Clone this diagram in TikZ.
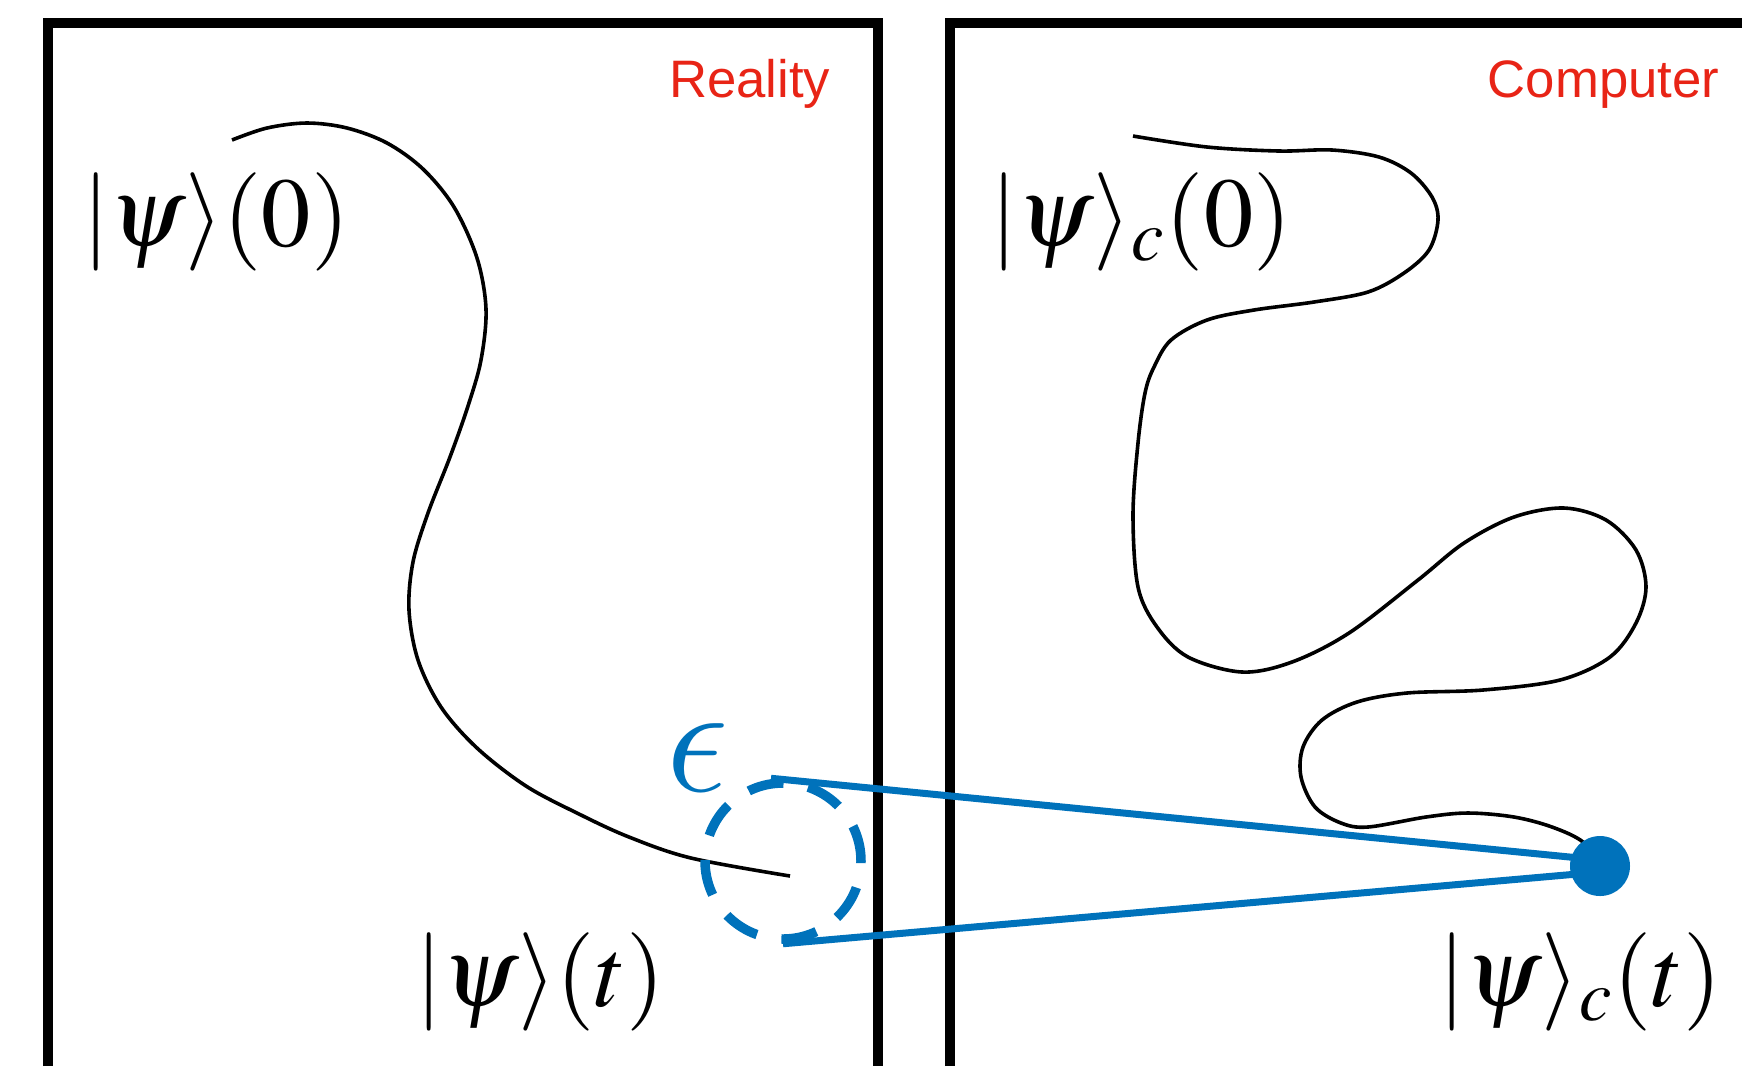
\documentclass[tikz,border=0pt]{standalone}
\usepackage{amsmath}
\usepackage{graphicx}
\usepackage{mathptmx}
\usepackage{fontspec}
\newfontfamily\tagfont{Liberation Sans}
\DeclareSymbolFont{cmletters}{OML}{cmm}{m}{it}
\DeclareMathSymbol{\lunate}{\mathord}{cmletters}{"0F}
\usetikzlibrary{positioning,calc}
\definecolor{tagred}{RGB}{232,36,22}
\definecolor{errblue}{RGB}{0,114,187}
\tikzset{
  frame/.style={line width=0.95mm, black},
  traj/.style={line width=0.36mm, black, line join=round},
  ket/.style={inner sep=0pt, font=\fontsize{28}{33}\selectfont},
  tag/.style={inner sep=0pt, text=tagred, font=\tagfont\fontsize{15}{18}\selectfont},
  ball/.style={circle, draw=errblue, line width=0.95mm, dash pattern=on 3.6mm off 2.5mm, minimum size=15.6mm, inner sep=0pt},
  st/.style={circle, fill=errblue, minimum size=6mm, inner sep=0pt},
  link/.style={errblue, line width=0.7mm},
}
\begin{document}
\begin{tikzpicture}[x=0.1mm, y=-0.1mm]
\useasboundingbox (0,0) rectangle (1742,1066);
\draw[frame] (48,1066) -- (48,23) -- (878,23) -- (878,1066);
\draw[frame] (950,1066) -- (950,23) -- (1742,23);
\node[tag, anchor=base east] (rl) at (831,97) {Reality};
\node[tag, anchor=base east] (cp) at (1720,97) {Computer};
\node[ket, anchor=base west] (k0) at (82,246) {$|\psi\rangle(0)$};
\node[ket, anchor=base west] (kc0) at (990,246) {$|\psi\rangle_c(0)$};
\node[ket, anchor=base west] (kt) at (415,1006) {$|\psi\rangle(t)$};
\node[ket, anchor=base west] (kct) at (1438,1006) {$|\psi\rangle_c(t)$};
\draw[traj] plot[smooth, tension=0.55] coordinates {(232,140) (267,128) (307,123)
  (347,128) (387,143) (423,169) (454,207) (477,258) (486,309) (481,360)
  (468,406) (450,457) (428,513) (413,562) (409,610) (418,660) (441,707)
  (477,748) (526,786) (579,814) (629,837) (691,858) (790,876)};
\draw[traj] plot[smooth, tension=0.55] coordinates {(1133,136) (1207,147) (1279,151)
  (1332,150) (1379,157) (1411,173) (1432,197) (1438,220) (1429,250) (1404,273)
  (1368,292) (1314,302) (1254,310) (1207,320) (1171,340) (1154,367) (1145,393)
  (1138,443) (1133,515) (1138,587) (1157,627) (1188,657) (1242,672)
  (1292,662) (1349,633) (1418,580) (1464,543) (1514,517) (1564,508) (1606,520)
  (1636,550) (1646,587) (1636,623) (1610,657) (1560,680) (1483,690) (1407,693)
  (1357,702) (1322,720) (1303,747) (1301,777) (1315,807) (1341,823) (1368,827)
  (1426,817) (1468,813) (1514,817) (1552,827) (1583,842) (1600,866)};
\node[text=errblue, inner sep=0pt, font=\fontsize{24.88}{30}\selectfont] (eps) at (698,758) {\scalebox{1.8}{$\lunate$}};
\node[ball] (bl) at (783,861) {};
\node[st] (cs) at (1600,866) {};
\draw[link] ([xshift=-1.2mm]bl.north) -- ([yshift=0.6mm]cs.center);
\draw[link] (bl.south) -- ([yshift=-0.6mm]cs.center);
\end{tikzpicture}
\end{document}
